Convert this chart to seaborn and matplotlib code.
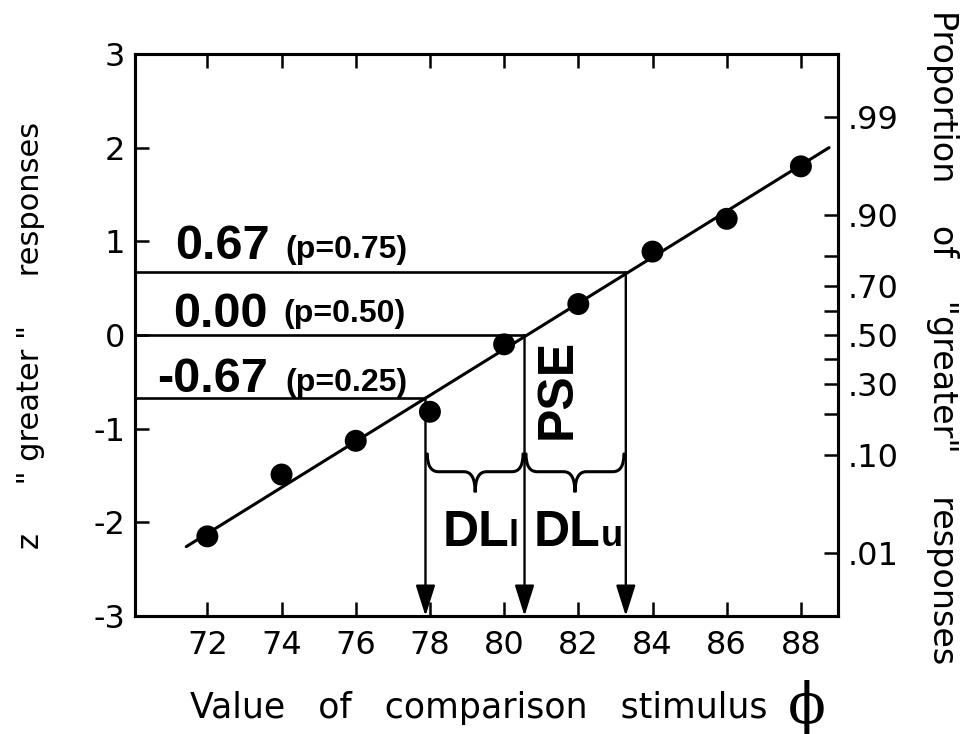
import matplotlib
matplotlib.use("Agg")
import matplotlib.pyplot as plt
from matplotlib.path import Path
from matplotlib.patches import PathPatch
from statistics import NormalDist
import seaborn as sns

# valores
stimulus = [72, 74, 76, 78, 80, 82, 84, 86, 88]
z_greater = [-2.15, -1.49, -1.13, -0.82, -0.10, 0.33, 0.89, 1.24, 1.80]

# reta ajustada (extremos)
fit_x = [71.43, 88.76]
fit_z = [-2.26, 2.00]

# niveis z, rotulos e posicao das setas
z_levels = [0.67, 0.00, -0.67]
z_labels = ["0.67", "0.00", "-0.67"]
p_labels = ["(p=0.75)", "(p=0.50)", "(p=0.25)"]
arrow_x = [83.28, 80.55, 77.88]

x_ticks = [72, 74, 76, 78, 80, 82, 84, 86, 88]
y_ticks = [-3, -2, -1, 0, 1, 2, 3]
prob_ticks = [0.01, 0.10, 0.20, 0.30, 0.40, 0.50, 0.60, 0.70, 0.80, 0.90, 0.99]
prob_labels = [".01", ".10", "", ".30", "", ".50", "", ".70", "", ".90", ".99"]

sns.set_theme(style="ticks")
plt.rcParams["font.family"] = ["DejaVu Sans"]
plt.rcParams["axes.unicode_minus"] = False

fig = plt.figure(figsize=(9.7, 7.34), dpi=100)
ax = fig.add_axes([0.1392, 0.1608, 0.7247, 0.7657])

sns.lineplot(x=fit_x, y=fit_z, ax=ax, color="black", lw=2.2, zorder=2)
sns.scatterplot(x=stimulus, y=z_greater, ax=ax, s=250, color="black",
                edgecolor="none", zorder=3)

ax.set_xlim(70.05, 89.0)
ax.set_ylim(-3, 3)
ax.set_xticks(x_ticks)
ax.set_yticks(y_ticks)
ax.set_yticklabels([str(v) for v in y_ticks])

for s in ax.spines.values():
    s.set_linewidth(2.2)
    s.set_color("black")

ax.tick_params(axis="both", direction="in", length=10, width=1.8,
               labelsize=23, colors="black")
ax.tick_params(axis="x", top=True, pad=10)
ax.tick_params(axis="y", right=False, pad=7)

# eixo da direita em proporcao
ax2 = ax.twinx()
ax2.set_ylim(-3, 3)
ax2.set_yticks([NormalDist().inv_cdf(p) for p in prob_ticks])
ax2.set_yticklabels(prob_labels)
ax2.tick_params(axis="y", direction="in", length=10, width=1.8,
                labelsize=23, pad=7, colors="black")
for s in ax2.spines.values():
    s.set_linewidth(2.2)
    s.set_color("black")

# linhas horizontais e setas
x_left = ax.get_xlim()[0]
for zl, xa in zip(z_levels, arrow_x):
    ax.hlines(zl, x_left, xa, color="black", lw=1.9, zorder=1)
    ax.annotate("", xy=(xa, -3), xytext=(xa, zl),
                arrowprops=dict(arrowstyle="-|>,head_length=1.9,head_width=0.6",
                                color="black", lw=1.7, shrinkA=0, shrinkB=0,
                                mutation_scale=10))

# rotulos dos niveis
bold = dict(family="Liberation Sans", weight="bold", color="black")
ax.text(71.14, 0.81, z_labels[0], fontsize=35, va="baseline", **bold)
ax.text(74.10, 0.82, p_labels[0], fontsize=23, va="baseline", **bold)
ax.text(71.08, 0.085, z_labels[1], fontsize=35, va="baseline", **bold)
ax.text(74.05, 0.14, p_labels[1], fontsize=23, va="baseline", **bold)
ax.text(70.65, -0.61, z_labels[2], fontsize=35, va="baseline", **bold)
ax.text(74.10, -0.60, p_labels[2], fontsize=23, va="baseline", **bold)

ax.text(81.45, -0.58, "PSE", fontsize=36, rotation=90,
        ha="center", va="center", **bold)


def chave(x0, x1, y_top=-1.27, y_mid=-1.46, y_tip=-1.68, r=0.3):
    xm = (x0 + x1) / 2
    verts = [(x0, y_top), (x0, y_mid), (x0 + r, y_mid),
             (xm - r, y_mid), (xm, y_mid), (xm, y_tip),
             (xm, y_mid), (xm + r, y_mid),
             (x1 - r, y_mid), (x1, y_mid), (x1, y_top)]
    codes = [Path.MOVETO, Path.CURVE3, Path.CURVE3,
             Path.LINETO, Path.CURVE3, Path.CURVE3,
             Path.CURVE3, Path.CURVE3,
             Path.LINETO, Path.CURVE3, Path.CURVE3]
    ax.add_patch(PathPatch(Path(verts, codes), fill=False, lw=2.2,
                           edgecolor="black", capstyle="round"))


chave(arrow_x[2] + 0.05, arrow_x[1] - 0.04)
chave(arrow_x[1] + 0.04, arrow_x[0] - 0.05)

ax.text(78.34, -2.25, "DL", fontsize=36, va="baseline", **bold)
ax.text(80.12, -2.25, "l", fontsize=26, va="baseline", **bold)
ax.text(80.80, -2.25, "DL", fontsize=36, va="baseline", **bold)
ax.text(82.61, -2.25, "u", fontsize=26, va="baseline", **bold)

# titulos dos eixos
ax.set_xlabel("Value   of   comparison   stimulus", fontsize=25,
              va="baseline", color="black")
ax.xaxis.set_label_coords(0.489, -0.1815)
ax.text(0.956, -0.162, "\u03d5", transform=ax.transAxes, fontsize=40,
        family="DejaVu Serif", ha="center", va="center", color="black")

ax.set_ylabel('z     " greater "     responses', fontsize=22,
              va="center", color="black")
ax.yaxis.set_label_coords(-0.149, 0.5)

ax2.set_ylabel('Proportion    of    "greater"    responses', fontsize=24,
               rotation=270, va="center", color="black")
ax2.yaxis.set_label_coords(1.149, 0.496)

fig.savefig("out.png", dpi=100)
